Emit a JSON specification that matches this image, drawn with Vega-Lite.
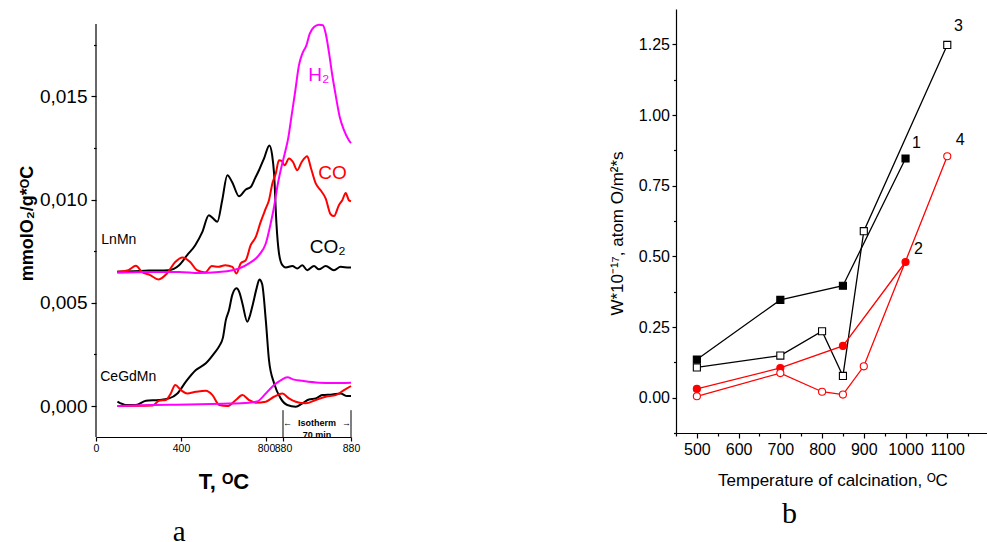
{
"$schema": "https://vega.github.io/schema/vega-lite/v6.json",
"padding": {"left": 18, "top": 9, "right": 0, "bottom": 0},
"spacing": 248,
"resolve": {"scale": {"color": "independent", "fill": "independent", "stroke": "independent", "shape": "independent"}},
"config": {
  "view": {"stroke": null},
  "font": "Liberation Sans",
  "axis": {"grid": false, "domainColor": "#000", "tickColor": "#000", "labelColor": "#000", "titleColor": "#000", "domainWidth": 1.2, "tickWidth": 1.2, "labelFont": "Liberation Sans", "titleFont": "Liberation Sans"}
},
"datasets": {
"tpr": [
{"s":"L","g":"CO2","t":100,"v":0.00650},{"s":"L","g":"CO2","t":180,"v":0.00653},{"s":"L","g":"CO2","t":250,"v":0.00656},{"s":"L","g":"CO2","t":340,"v":0.00658},{"s":"L","g":"CO2","t":391,"v":0.00682},{"s":"L","g":"CO2","t":429,"v":0.00731},{"s":"L","g":"CO2","t":467,"v":0.00779},{"s":"L","g":"CO2","t":500,"v":0.00842},{"s":"L","g":"CO2","t":531,"v":0.00924},{"s":"L","g":"CO2","t":550,"v":0.00910},{"s":"L","g":"CO2","t":571,"v":0.00892},{"s":"L","g":"CO2","t":594,"v":0.00997},{"s":"L","g":"CO2","t":618,"v":0.01118},{"s":"L","g":"CO2","t":641,"v":0.01084},{"s":"L","g":"CO2","t":673,"v":0.01016},{"s":"L","g":"CO2","t":705,"v":0.01049},{"s":"L","g":"CO2","t":728,"v":0.01061},{"s":"L","g":"CO2","t":749,"v":0.01104},{"s":"L","g":"CO2","t":767,"v":0.01142},{"s":"L","g":"CO2","t":791,"v":0.01200},{"s":"L","g":"CO2","t":816,"v":0.01262},{"s":"L","g":"CO2","t":829,"v":0.01215},{"s":"L","g":"CO2","t":838,"v":0.01126},{"s":"L","g":"CO2","t":849,"v":0.00886},{"s":"L","g":"CO2","t":861,"v":0.00741},{"s":"L","g":"CO2","t":877,"v":0.00682},{"s":"L","g":"CO2","t":893,"v":0.00671},{"s":"L","g":"CO2","t":924,"v":0.00678},{"s":"L","g":"CO2","t":947,"v":0.00666},{"s":"L","g":"CO2","t":971,"v":0.00682},{"s":"L","g":"CO2","t":994,"v":0.00658},{"s":"L","g":"CO2","t":1026,"v":0.00678},{"s":"L","g":"CO2","t":1049,"v":0.00662},{"s":"L","g":"CO2","t":1081,"v":0.00678},{"s":"L","g":"CO2","t":1120,"v":0.00658},{"s":"L","g":"CO2","t":1151,"v":0.00674},{"s":"L","g":"CO2","t":1190,"v":0.00671},{"s":"L","g":"CO2","t":1200,"v":0.00671},
{"s":"L","g":"CO","t":100,"v":0.00650},{"s":"L","g":"CO","t":152,"v":0.00658},{"s":"L","g":"CO","t":188,"v":0.00679},{"s":"L","g":"CO","t":216,"v":0.00650},{"s":"L","g":"CO","t":255,"v":0.00634},{"s":"L","g":"CO","t":294,"v":0.00613},{"s":"L","g":"CO","t":334,"v":0.00642},{"s":"L","g":"CO","t":373,"v":0.00698},{"s":"L","g":"CO","t":407,"v":0.00720},{"s":"L","g":"CO","t":443,"v":0.00698},{"s":"L","g":"CO","t":475,"v":0.00658},{"s":"L","g":"CO","t":514,"v":0.00647},{"s":"L","g":"CO","t":545,"v":0.00678},{"s":"L","g":"CO","t":576,"v":0.00674},{"s":"L","g":"CO","t":608,"v":0.00682},{"s":"L","g":"CO","t":642,"v":0.00674},{"s":"L","g":"CO","t":661,"v":0.00642},{"s":"L","g":"CO","t":681,"v":0.00691},{"s":"L","g":"CO","t":705,"v":0.00707},{"s":"L","g":"CO","t":728,"v":0.00779},{"s":"L","g":"CO","t":752,"v":0.00819},{"s":"L","g":"CO","t":775,"v":0.00892},{"s":"L","g":"CO","t":799,"v":0.00957},{"s":"L","g":"CO","t":814,"v":0.00997},{"s":"L","g":"CO","t":830,"v":0.01078},{"s":"L","g":"CO","t":846,"v":0.01126},{"s":"L","g":"CO","t":861,"v":0.01191},{"s":"L","g":"CO","t":874,"v":0.01187},{"s":"L","g":"CO","t":888,"v":0.01166},{"s":"L","g":"CO","t":908,"v":0.01199},{"s":"L","g":"CO","t":927,"v":0.01182},{"s":"L","g":"CO","t":947,"v":0.01142},{"s":"L","g":"CO","t":968,"v":0.01182},{"s":"L","g":"CO","t":994,"v":0.01210},{"s":"L","g":"CO","t":1010,"v":0.01158},{"s":"L","g":"CO","t":1034,"v":0.01078},{"s":"L","g":"CO","t":1057,"v":0.01045},{"s":"L","g":"CO","t":1081,"v":0.01005},{"s":"L","g":"CO","t":1104,"v":0.00929},{"s":"L","g":"CO","t":1120,"v":0.00920},{"s":"L","g":"CO","t":1143,"v":0.00973},{"s":"L","g":"CO","t":1159,"v":0.00997},{"s":"L","g":"CO","t":1175,"v":0.01032},{"s":"L","g":"CO","t":1190,"v":0.00997},{"s":"L","g":"CO","t":1200,"v":0.00992},
{"s":"L","g":"H2","t":100,"v":0.00646},{"s":"L","g":"H2","t":250,"v":0.00649},{"s":"L","g":"H2","t":391,"v":0.00649},{"s":"L","g":"H2","t":485,"v":0.00644},{"s":"L","g":"H2","t":579,"v":0.00649},{"s":"L","g":"H2","t":636,"v":0.00656},{"s":"L","g":"H2","t":673,"v":0.00666},{"s":"L","g":"H2","t":720,"v":0.00691},{"s":"L","g":"H2","t":767,"v":0.00731},{"s":"L","g":"H2","t":799,"v":0.00787},{"s":"L","g":"H2","t":822,"v":0.00884},{"s":"L","g":"H2","t":838,"v":0.00965},{"s":"L","g":"H2","t":853,"v":0.01061},{"s":"L","g":"H2","t":869,"v":0.01142},{"s":"L","g":"H2","t":890,"v":0.01230},{"s":"L","g":"H2","t":905,"v":0.01300},{"s":"L","g":"H2","t":918,"v":0.01390},{"s":"L","g":"H2","t":937,"v":0.01521},{"s":"L","g":"H2","t":955,"v":0.01650},{"s":"L","g":"H2","t":971,"v":0.01707},{"s":"L","g":"H2","t":990,"v":0.01747},{"s":"L","g":"H2","t":1006,"v":0.01804},{"s":"L","g":"H2","t":1026,"v":0.01836},{"s":"L","g":"H2","t":1049,"v":0.01847},{"s":"L","g":"H2","t":1068,"v":0.01844},{"s":"L","g":"H2","t":1081,"v":0.01804},{"s":"L","g":"H2","t":1096,"v":0.01715},{"s":"L","g":"H2","t":1112,"v":0.01602},{"s":"L","g":"H2","t":1128,"v":0.01505},{"s":"L","g":"H2","t":1147,"v":0.01400},{"s":"L","g":"H2","t":1167,"v":0.01336},{"s":"L","g":"H2","t":1190,"v":0.01287},{"s":"L","g":"H2","t":1200,"v":0.01273},
{"s":"C","g":"CO2","t":101,"v":0.00021},{"s":"C","g":"CO2","t":141,"v":0.00005},{"s":"C","g":"CO2","t":188,"v":0.00005},{"s":"C","g":"CO2","t":235,"v":0.00026},{"s":"C","g":"CO2","t":297,"v":0.00029},{"s":"C","g":"CO2","t":344,"v":0.00037},{"s":"C","g":"CO2","t":383,"v":0.00061},{"s":"C","g":"CO2","t":423,"v":0.00118},{"s":"C","g":"CO2","t":470,"v":0.00174},{"s":"C","g":"CO2","t":517,"v":0.00207},{"s":"C","g":"CO2","t":556,"v":0.00255},{"s":"C","g":"CO2","t":580,"v":0.00290},{"s":"C","g":"CO2","t":597,"v":0.00330},{"s":"C","g":"CO2","t":611,"v":0.00416},{"s":"C","g":"CO2","t":626,"v":0.00465},{"s":"C","g":"CO2","t":641,"v":0.00537},{"s":"C","g":"CO2","t":661,"v":0.00570},{"s":"C","g":"CO2","t":676,"v":0.00547},{"s":"C","g":"CO2","t":689,"v":0.00497},{"s":"C","g":"CO2","t":712,"v":0.00408},{"s":"C","g":"CO2","t":725,"v":0.00440},{"s":"C","g":"CO2","t":739,"v":0.00497},{"s":"C","g":"CO2","t":756,"v":0.00571},{"s":"C","g":"CO2","t":769,"v":0.00613},{"s":"C","g":"CO2","t":782,"v":0.00590},{"s":"C","g":"CO2","t":799,"v":0.00416},{"s":"C","g":"CO2","t":814,"v":0.00223},{"s":"C","g":"CO2","t":838,"v":0.00110},{"s":"C","g":"CO2","t":869,"v":0.00037},{"s":"C","g":"CO2","t":900,"v":0.00005},{"s":"C","g":"CO2","t":940,"v":-0.00003},{"s":"C","g":"CO2","t":971,"v":0.00013},{"s":"C","g":"CO2","t":1002,"v":0.00032},{"s":"C","g":"CO2","t":1034,"v":0.00037},{"s":"C","g":"CO2","t":1065,"v":0.00053},{"s":"C","g":"CO2","t":1112,"v":0.00056},{"s":"C","g":"CO2","t":1151,"v":0.00061},{"s":"C","g":"CO2","t":1182,"v":0.00048},{"s":"C","g":"CO2","t":1200,"v":0.00048},
{"s":"C","g":"CO","t":101,"v":0.0},{"s":"C","g":"CO","t":266,"v":0.00002},{"s":"C","g":"CO","t":297,"v":0.00026},{"s":"C","g":"CO","t":329,"v":0.00029},{"s":"C","g":"CO","t":352,"v":0.00061},{"s":"C","g":"CO","t":373,"v":0.00102},{"s":"C","g":"CO","t":400,"v":0.00077},{"s":"C","g":"CO","t":429,"v":0.00061},{"s":"C","g":"CO","t":470,"v":0.00069},{"s":"C","g":"CO","t":517,"v":0.00074},{"s":"C","g":"CO","t":548,"v":0.00053},{"s":"C","g":"CO","t":580,"v":0.00005},{"s":"C","g":"CO","t":618,"v":0.0},{"s":"C","g":"CO","t":658,"v":0.00029},{"s":"C","g":"CO","t":689,"v":0.00053},{"s":"C","g":"CO","t":720,"v":0.00029},{"s":"C","g":"CO","t":752,"v":0.00016},{"s":"C","g":"CO","t":799,"v":0.00021},{"s":"C","g":"CO","t":838,"v":0.00045},{"s":"C","g":"CO","t":877,"v":0.00061},{"s":"C","g":"CO","t":908,"v":0.00037},{"s":"C","g":"CO","t":940,"v":0.00021},{"s":"C","g":"CO","t":987,"v":0.00013},{"s":"C","g":"CO","t":1034,"v":0.00029},{"s":"C","g":"CO","t":1081,"v":0.00045},{"s":"C","g":"CO","t":1128,"v":0.00053},{"s":"C","g":"CO","t":1167,"v":0.00077},{"s":"C","g":"CO","t":1200,"v":0.00097},
{"s":"C","g":"H2","t":100,"v":0.0},{"s":"C","g":"H2","t":250,"v":0.00005},{"s":"C","g":"H2","t":438,"v":0.00007},{"s":"C","g":"H2","t":595,"v":0.00011},{"s":"C","g":"H2","t":720,"v":0.00016},{"s":"C","g":"H2","t":758,"v":0.00022},{"s":"C","g":"H2","t":799,"v":0.00061},{"s":"C","g":"H2","t":838,"v":0.00102},{"s":"C","g":"H2","t":871,"v":0.00126},{"s":"C","g":"H2","t":900,"v":0.00139},{"s":"C","g":"H2","t":932,"v":0.00128},{"s":"C","g":"H2","t":971,"v":0.00122},{"s":"C","g":"H2","t":1049,"v":0.00113},{"s":"C","g":"H2","t":1120,"v":0.00111},{"s":"C","g":"H2","t":1200,"v":0.00113}
],
"iso": [{"t":880},{"t":1200}],
"isotxt": [{"txt":"Isotherm","t":1040,"v":-0.00081},{"txt":"70 min","t":1040,"v":-0.0014},{"txt":"←","t":901,"v":-0.00081},{"txt":"→","t":1179,"v":-0.00081}],
"samples": [{"txt":"LnMn","t":25,"v":0.00803},{"txt":"CeGdMn","t":20,"v":0.00142}],
"gases": [{"txt":"H₂","g":"H2","t":999,"v":0.01602},{"txt":"CO","g":"CO","t":1046,"v":0.01128},{"txt":"CO₂","g":"CO2","t":1006,"v":0.00771}],
"pa": [{"txt":"a","t":391,"v":-0.0061}],
"rate": [
{"s":"1","T":500,"W":0.135},{"s":"1","T":700,"W":0.346},{"s":"1","T":850,"W":0.396},{"s":"1","T":1000,"W":0.846},
{"s":"3","T":500,"W":0.107},{"s":"3","T":700,"W":0.149},{"s":"3","T":800,"W":0.235},{"s":"3","T":850,"W":0.077},{"s":"3","T":900,"W":0.589},{"s":"3","T":1100,"W":1.248},
{"s":"2","T":500,"W":0.031},{"s":"2","T":700,"W":0.105},{"s":"2","T":850,"W":0.183},{"s":"2","T":1000,"W":0.480},
{"s":"4","T":500,"W":0.005},{"s":"4","T":700,"W":0.087},{"s":"4","T":800,"W":0.021},{"s":"4","T":850,"W":0.011},{"s":"4","T":900,"W":0.111},{"s":"4","T":1100,"W":0.854}
],
"nums": [{"txt":"1","T":1026,"W":0.901},{"txt":"2","T":1031,"W":0.525},{"txt":"3","T":1127,"W":1.314},{"txt":"4","T":1131,"W":0.910}],
"pb": [{"txt":"b","T":722,"W":-0.411}]
},
"hconcat": [
{
  "width": 255, "height": 428,
  "layer": [
    {
      "data": {"name": "tpr"},
      "mark": {"type": "line", "strokeWidth": 2, "interpolate": "monotone"},
      "encoding": {
        "x": {"field": "t", "type": "quantitative", "scale": {"domain": [0, 1200], "nice": false, "zero": false},
          "axis": {"values": [0, 400, 800, 880, 1200], "labelExpr": "datum.value == 1200 ? '880' : format(datum.value, 'd')", "labelFontSize": 10.5, "labelFlush": false, "labelOverlap": false, "tickSize": 4, "labelPadding": 2, "title": "T, ᴼC", "titleFontSize": 22, "titleFontWeight": "bold", "titlePadding": 18}},
        "y": {"field": "v", "type": "quantitative", "scale": {"domain": [-0.0015, 0.01923], "nice": false, "zero": false},
          "axis": {"domain": false, "values": [0, 0.0025, 0.005, 0.0075, 0.01, 0.0125, 0.015, 0.0175], "labelExpr": "round(datum.value*10000) % 50 == 0 ? replace(format(datum.value, '.3f'), '.', ',') : ''", "labelFontSize": 19, "tickSize": {"condition": {"test": "round(datum.value*10000) % 50 == 0", "value": 5}, "value": 2.5}, "labelPadding": 4, "title": "mmolO₂/g*ᴼC", "titleFontSize": 18, "titleFontWeight": "bold", "titlePadding": 3}},
        "color": {"field": "g", "type": "nominal", "scale": {"domain": ["CO2", "CO", "H2"], "range": ["#000000", "#ff0000", "#ff00ff"]}, "legend": null},
        "detail": {"field": "s"}
      }
    },
    {
      "data": {"values": [{"t": 0}]},
      "mark": {"type": "rule", "color": "#000", "strokeWidth": 1.2},
      "encoding": {"x": {"field": "t", "type": "quantitative"}, "y": {"datum": -0.0015}, "y2": {"datum": 0.0185}}
    },
    {
      "data": {"name": "iso"},
      "mark": {"type": "rule", "color": "#000", "strokeWidth": 1},
      "encoding": {"x": {"field": "t", "type": "quantitative"}, "y": {"datum": -0.0002}, "y2": {"datum": -0.0015}}
    },
    {
      "data": {"name": "isotxt"},
      "mark": {"type": "text", "fontSize": 9, "fontWeight": "bold", "align": "center", "baseline": "middle", "color": "#000"},
      "encoding": {"x": {"field": "t", "type": "quantitative"}, "y": {"field": "v", "type": "quantitative"}, "text": {"field": "txt"}}
    },
    {
      "data": {"name": "samples"},
      "mark": {"type": "text", "fontSize": 14, "align": "left", "baseline": "middle", "color": "#000"},
      "encoding": {"x": {"field": "t", "type": "quantitative"}, "y": {"field": "v", "type": "quantitative"}, "text": {"field": "txt"}}
    },
    {
      "data": {"name": "gases"},
      "mark": {"type": "text", "fontSize": 19, "align": "left", "baseline": "middle"},
      "encoding": {"x": {"field": "t", "type": "quantitative"}, "y": {"field": "v", "type": "quantitative"}, "text": {"field": "txt"}, "color": {"field": "g", "type": "nominal", "legend": null}}
    },
    {
      "data": {"name": "pa"},
      "mark": {"type": "text", "fontSize": 29, "font": "Liberation Serif", "align": "center", "baseline": "middle", "color": "#000"},
      "encoding": {"x": {"field": "t", "type": "quantitative"}, "y": {"field": "v", "type": "quantitative"}, "text": {"field": "txt"}}
    }
  ]
},
{
  "width": 313, "height": 424,
  "resolve": {"axis": {"x": "independent", "y": "independent"}},
  "layer": [
    {
      "data": {"name": "rate"},
      "mark": {"type": "line", "strokeWidth": 1.3},
      "encoding": {
        "x": {"field": "T", "type": "quantitative", "scale": {"domain": [450, 1200], "nice": false, "zero": false},
          "axis": {"orient": "bottom", "values": [500, 600, 700, 800, 900, 1000, 1100], "format": "d", "labelFontSize": 16, "labelFlush": false, "labelOverlap": false, "tickSize": 5, "labelPadding": 3, "title": "Temperature of calcination, ᴼC", "titleFontSize": 17, "titleFontWeight": "normal", "titlePadding": 15}},
        "y": {"field": "W", "type": "quantitative", "scale": {"domain": [-0.125, 1.375], "nice": false, "zero": false},
          "axis": {"orient": "left", "values": [0, 0.25, 0.5, 0.75, 1, 1.25], "format": ".2f", "labelFontSize": 16, "labelOverlap": false, "tickSize": 4, "labelPadding": 2.5, "title": "W*10⁻¹⁷, atom O/m²*s", "titleFontSize": 17, "titleFontWeight": "normal", "titlePadding": 12, "titleY": 224}},
        "color": {"field": "s", "type": "nominal", "scale": {"domain": ["1", "2", "3", "4"], "range": ["#000000", "#ff0000", "#000000", "#ff0000"]}, "legend": null}
      }
    },
    {
      "data": {"name": "rate"},
      "mark": {"type": "point", "filled": true, "size": 50, "strokeWidth": 1.1, "opacity": 1},
      "encoding": {
        "x": {"field": "T", "type": "quantitative", "axis": {"orient": "bottom", "values": [450, 550, 650, 750, 850, 950, 1050, 1150], "labels": false, "domain": false, "tickSize": 3, "title": null}},
        "y": {"field": "W", "type": "quantitative", "axis": {"orient": "left", "values": [-0.125, 0.125, 0.375, 0.625, 0.875, 1.125], "labels": false, "domain": false, "tickSize": 2.5, "title": null}},
        "shape": {"field": "s", "type": "nominal", "scale": {"domain": ["1", "2", "3", "4"], "range": ["square", "circle", "square", "circle"]}, "legend": null},
        "fill": {"field": "s", "type": "nominal", "scale": {"domain": ["1", "2", "3", "4"], "range": ["#000000", "#ff0000", "#ffffff", "#ffffff"]}, "legend": null},
        "stroke": {"field": "s", "type": "nominal", "scale": {"domain": ["1", "2", "3", "4"], "range": ["#000000", "#ff0000", "#000000", "#ff0000"]}, "legend": null}
      }
    },
    {
      "data": {"name": "nums"},
      "mark": {"type": "text", "fontSize": 16, "align": "center", "baseline": "middle", "color": "#000"},
      "encoding": {"x": {"field": "T", "type": "quantitative", "axis": null}, "y": {"field": "W", "type": "quantitative", "axis": null}, "text": {"field": "txt"}}
    },
    {
      "data": {"name": "pb"},
      "mark": {"type": "text", "fontSize": 30, "font": "Liberation Serif", "align": "center", "baseline": "middle", "color": "#000"},
      "encoding": {"x": {"field": "T", "type": "quantitative", "axis": null}, "y": {"field": "W", "type": "quantitative", "axis": null}, "text": {"field": "txt"}}
    }
  ]
}
]
}
